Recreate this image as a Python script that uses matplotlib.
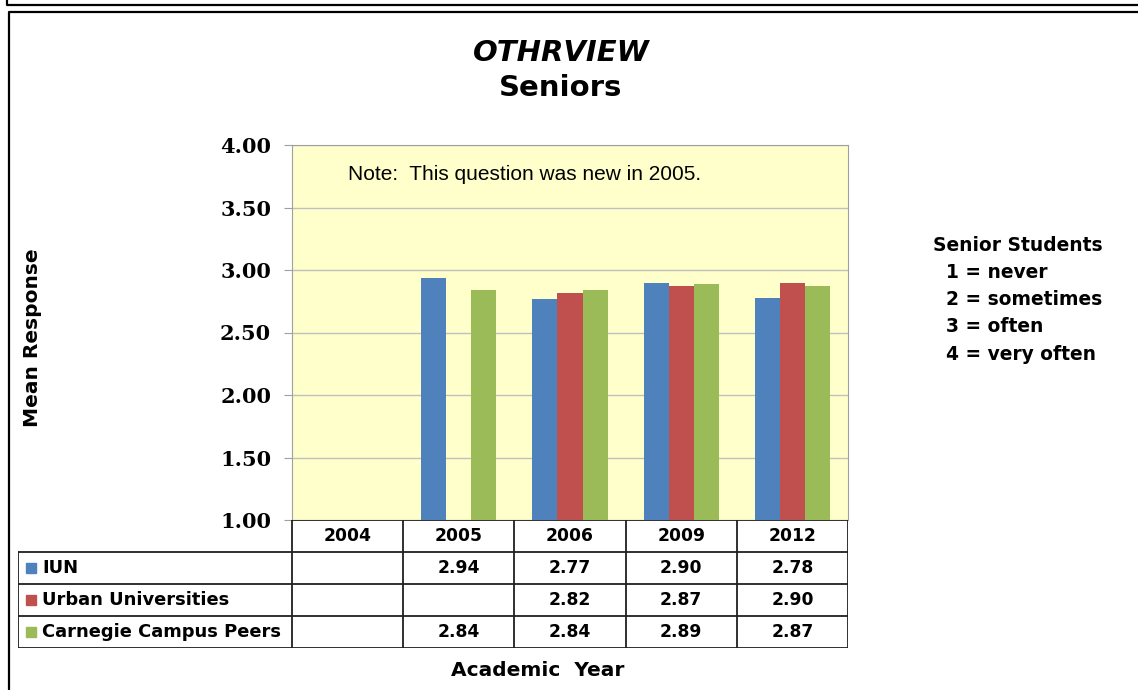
import numpy as np
import matplotlib
matplotlib.use("Agg")
import matplotlib.pyplot as plt
from matplotlib.lines import Line2D
from matplotlib.patches import Rectangle

years = ["2004", "2005", "2006", "2009", "2012"]
series = ["IUN", "Urban Universities", "Carnegie Campus Peers"]
iun = [np.nan, 2.94, 2.77, 2.90, 2.78]
urban = [np.nan, np.nan, 2.82, 2.87, 2.90]
carnegie = [np.nan, 2.84, 2.84, 2.89, 2.87]
colors = ["#4F81BD", "#C0504D", "#9BBB59"]
yticks = [1.00, 1.50, 2.00, 2.50, 3.00, 3.50, 4.00]
scale_lines = ["Senior Students", "  1 = never", "  2 = sometimes", "  3 = often", "  4 = very often"]

W, H = 1138, 690
fig = plt.figure(figsize=(W / 100, H / 100), dpi=100)


def fx(px):
    return px / W


def fy(py):
    return 1 - py / H


# outer frames
fig.add_artist(Line2D([fx(7), fx(7), fx(1140)], [fy(-2), fy(5), fy(5)], color="black", lw=1.6))
fig.add_artist(Line2D([fx(9), fx(9), fx(1140)], [fy(692), fy(12), fy(12)], color="black", lw=1.6))

# main plot area
ax = fig.add_axes([fx(292), fy(520), fx(848) - fx(292), fy(145) - fy(520)])
ax.set_facecolor("#FFFFCC")
x = np.arange(len(years))
w = 0.225
for i, (vals, c) in enumerate(zip([iun, urban, carnegie], colors)):
    ax.bar(x + (i - 1) * w, vals, width=w, color=c, zorder=3)

ax.set_xlim(-0.5, len(years) - 0.5)
ax.set_ylim(1, 4)
ax.set_yticks(yticks)
ax.set_yticklabels(["%.2f" % t for t in yticks], fontfamily="DejaVu Serif",
                   fontweight="bold", fontsize=15)
ax.set_xticks([])
ax.tick_params(axis="y", length=6, color="#A0A0A0", pad=9)
ax.grid(axis="y", color="#C0C0C0", lw=1, zorder=0)
for s in ax.spines.values():
    s.set_color("#A0A0A0")
ax.spines["bottom"].set_visible(False)

ax.text(-0.5 + 56 / 111.2, 3.76, "Note:  This question was new in 2005.",
        fontfamily="Liberation Sans", fontsize=15, va="center", ha="left")

# titles
fig.text(fx(561), fy(53), "OTHRVIEW", fontsize=21, fontweight="bold", fontstyle="italic",
         ha="center", va="center")
fig.text(fx(561), fy(88), "Seniors", fontsize=21, fontweight="bold", ha="center", va="center")
fig.text(fx(33), fy(338), "Mean Response", fontsize=14.5, fontweight="bold", rotation=90,
         ha="center", va="center")
fig.text(fx(538), fy(670), "Academic  Year", fontsize=14.5, fontweight="bold",
         ha="center", va="center")

for k, line in enumerate(scale_lines):
    fig.text(fx(933), fy(246 + 27 * k), line, fontsize=13.4,
             fontweight="bold", ha="left", va="center")

# data table under the chart
unit = 556 / len(years)
x0 = -0.5 - 274 / unit
tax = fig.add_axes([fx(18), fy(648), fx(848) - fx(18), fy(520) - fy(648)])
tax.set_xlim(x0, len(years) - 0.5)
tax.set_ylim(4, 0)
tax.axis("off")
lc = "#202020"
lw = 1.3
tax.plot([-0.5, len(years) - 0.5], [0, 0], color=lc, lw=lw)
for r in range(1, 5):
    tax.plot([x0, len(years) - 0.5], [r, r], color=lc, lw=lw)
tax.plot([x0, x0], [1, 4], color=lc, lw=lw)
for c in range(len(years) + 1):
    tax.plot([c - 0.5, c - 0.5], [0, 4], color=lc, lw=lw)

for c, yr in enumerate(years):
    tax.text(c, 0.5, yr, ha="center", va="center", fontsize=12.3, fontweight="bold")
for r, (name, vals, col) in enumerate(zip(series, [iun, urban, carnegie], colors)):
    tax.add_patch(Rectangle((x0 + 8 / unit, r + 1.5 - 0.17), 10 / unit, 0.34, color=col))
    tax.text(x0 + 24 / unit, r + 1.5, name, ha="left", va="center", fontsize=12.9,
             fontweight="bold")
    for c, v in enumerate(vals):
        if not np.isnan(v):
            tax.text(c, r + 1.5, "%.2f" % v, ha="center", va="center", fontsize=12.3,
                     fontweight="bold")

fig.savefig("out.png", dpi=100)
